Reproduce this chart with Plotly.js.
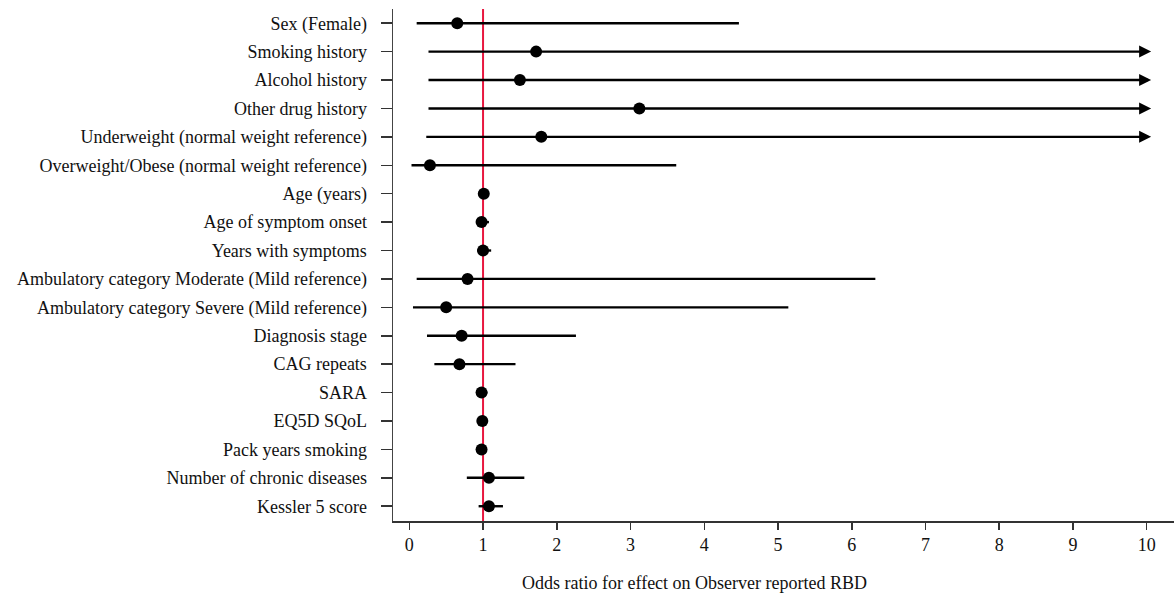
<!DOCTYPE html>
<html>
<head>
<meta charset="utf-8">
<script src="https://cdn.plot.ly/plotly-3.0.1.min.js"></script>
<style>html,body{margin:0;padding:0;background:#fff;}#chart{width:1174px;height:593px;}</style>
</head>
<body>
<div id="chart"></div>
<script>
// ---- data ----
var categories = [
  "Sex (Female)",
  "Smoking history",
  "Alcohol history",
  "Other drug history",
  "Underweight (normal weight reference)",
  "Overweight/Obese (normal weight reference)",
  "Age (years)",
  "Age of symptom onset",
  "Years with symptoms",
  "Ambulatory category Moderate (Mild reference)",
  "Ambulatory category Severe (Mild reference)",
  "Diagnosis stage",
  "CAG repeats",
  "SARA",
  "EQ5D SQoL",
  "Pack years smoking",
  "Number of chronic diseases",
  "Kessler 5 score"
];
var oddsRatio = [0.65, 1.72, 1.50, 3.12, 1.79, 0.28, 1.01, 0.98, 1.00, 0.79, 0.50, 0.71, 0.68, 0.98, 0.99, 0.98, 1.08, 1.08];
var ciLower   = [0.10, 0.24, 0.24, 0.24, 0.21, 0.03, 0.97, 0.93, 0.92, 0.10, 0.05, 0.24, 0.34, 0.95, 0.96, 0.97, 0.78, 0.94];
// null = upper bound beyond the axis (drawn as an arrow)
var ciUpper   = [4.47, null, null, null, null, 3.62, 1.05, 1.08, 1.11, 6.32, 5.14, 2.26, 1.44, 1.06, 1.01, 1.00, 1.56, 1.27];
var xTicks = [0,1,2,3,4,5,6,7,8,9,10];
var referenceOR = 1;
var xTitle = "Odds ratio for effect on Observer reported RBD";

// ---- build ----
var rowIdx = categories.map(function(_, i){ return i; });
var arrowTip = 10.06;
var segX = [], segY = [];
var annotations = [];
for (var i = 0; i < categories.length; i++) {
  if (ciUpper[i] !== null) {
    segX.push(ciLower[i], ciUpper[i], null);
    segY.push(rowIdx[i], rowIdx[i], null);
  } else {
    annotations.push({
      x: arrowTip, y: rowIdx[i], ax: ciLower[i], ay: rowIdx[i],
      xref: 'x', yref: 'y', axref: 'x', ayref: 'y',
      text: '', showarrow: true, arrowhead: 2, arrowsize: 1.0,
      arrowwidth: 2.4, arrowcolor: '#000', standoff: 0, startstandoff: 0
    });
  }
}
annotations.push({
  text: xTitle, xref: 'paper', yref: 'paper', x: 0.386, y: 0,
  yshift: -62, showarrow: false, xanchor: 'center', yanchor: 'middle',
  font: {family: 'Liberation Serif, Times New Roman, serif', size: 18, color: '#111'}
});

var traces = [
  {
    x: segX, y: segY, type: 'scatter', mode: 'lines',
    line: {color: '#000', width: 2.4}, hoverinfo: 'skip', showlegend: false
  },
  {
    x: oddsRatio, y: rowIdx, type: 'scatter', mode: 'markers',
    marker: {color: '#000', size: 12, symbol: 'circle'},
    text: categories, showlegend: false
  }
];

var layout = {
  width: 1174, height: 593,
  margin: {l: 393, r: 0, t: 9, b: 72},
  paper_bgcolor: '#fff', plot_bgcolor: '#fff',
  font: {family: 'Liberation Serif, Times New Roman, serif', size: 18, color: '#111'},
  showlegend: false,
  xaxis: {
    range: [-0.221, 10.37], tickvals: xTicks, ticktext: xTicks.map(String),
    showgrid: false, zeroline: false, showline: true, linecolor: '#333', linewidth: 1.5,
    ticks: 'outside', ticklen: 7, tickwidth: 1.5, tickcolor: '#333',
    tickfont: {size: 18, color: '#111'}
  },
  yaxis: {
    range: [17.52, -0.5], tickvals: rowIdx, ticktext: categories,
    showgrid: false, zeroline: false, showline: true, linecolor: '#444', linewidth: 1.5,
    ticks: 'outside', ticklen: 11, tickwidth: 1.5, tickcolor: '#333',
    ticklabelstandoff: 10,
    tickfont: {size: 18, color: '#111'}
  },
  shapes: [{
    type: 'line', xref: 'x', yref: 'paper', x0: referenceOR, x1: referenceOR, y0: 0, y1: 1,
    line: {color: '#e8173f', width: 2}, layer: 'below'
  }],
  annotations: annotations
};

Plotly.newPlot('chart', traces, layout, {displayModeBar: false, staticPlot: true});
</script>
</body>
</html>
